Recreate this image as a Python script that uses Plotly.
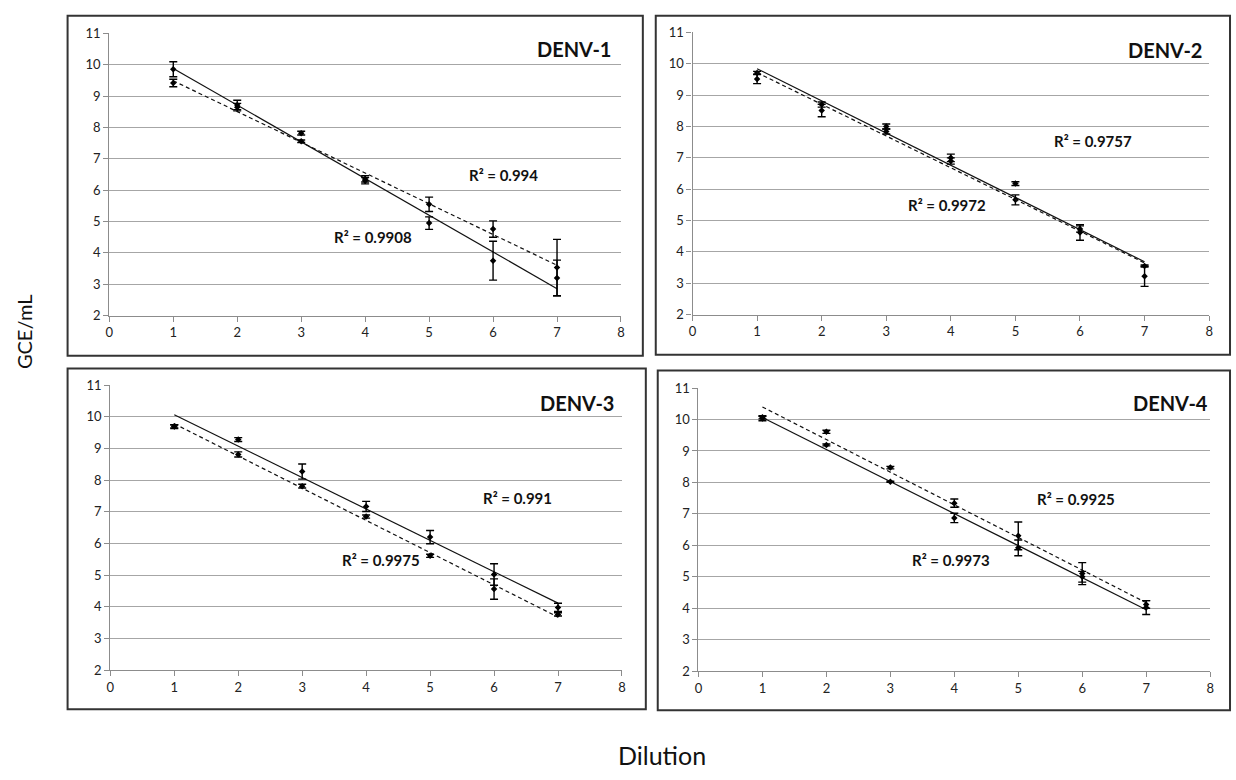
import numpy as np
import plotly.graph_objects as go

# ---------------- data ----------------
dilution = [1, 2, 3, 4, 5, 6, 7]
x_ticks = [0, 1, 2, 3, 4, 5, 6, 7, 8]
y_ticks = [2, 3, 4, 5, 6, 7, 8, 9, 10, 11]

panel_names = ["DENV-1", "DENV-2", "DENV-3", "DENV-4"]

denv1_solid_y = [9.86, 8.72, 7.82, 6.30, 4.95, 3.75, 3.20]
denv1_solid_err = [0.24, 0.15, 0.06, 0.10, 0.20, 0.62, 0.57]
denv1_dash_y = [9.42, 8.65, 7.56, 6.36, 5.55, 4.76, 3.53]
denv1_dash_err = [0.12, 0.12, 0.04, 0.10, 0.23, 0.26, 0.90]

denv2_solid_y = [9.71, 8.70, 8.00, 7.00, 5.66, 4.73, 3.55]
denv2_solid_err = [0.05, 0.08, 0.08, 0.12, 0.16, 0.10, 0.03]
denv2_dash_y = [9.52, 8.51, 7.84, 6.90, 6.18, 4.62, 3.22]
denv2_dash_err = [0.15, 0.20, 0.08, 0.10, 0.06, 0.25, 0.32]

denv3_solid_y = [9.70, 9.28, 8.27, 7.17, 6.20, 5.02, 3.98]
denv3_solid_err = [0.05, 0.06, 0.24, 0.16, 0.21, 0.34, 0.13]
denv3_dash_y = [9.69, 8.81, 7.81, 6.85, 5.61, 4.56, 3.76]
denv3_dash_err = [0.06, 0.08, 0.06, 0.05, 0.05, 0.32, 0.05]

denv4_solid_y = [10.03, 9.19, 8.02, 6.87, 5.92, 5.00, 4.02]
denv4_solid_err = [0.07, 0.03, 0.02, 0.15, 0.25, 0.17, 0.22]
denv4_dash_y = [10.07, 9.61, 8.47, 7.34, 6.30, 5.10, 4.12]
denv4_dash_err = [0.05, 0.05, 0.04, 0.13, 0.44, 0.35, 0.12]

r2_labels = [("R² = 0.994", "R² = 0.9908"),
             ("R² = 0.9757", "R² = 0.9972"),
             ("R² = 0.991", "R² = 0.9975"),
             ("R² = 0.9925", "R² = 0.9973")]

# ---------------- layout helpers ----------------
W, H = 1236, 780
FONT = "Lato"

def px_x(p):
    return p / W

def px_y(p):
    return 1 - p / H

# plot areas in pixels: (left, right, top, bottom)
areas = [(106, 621, 26, 314), (693, 1213, 25, 313),
         (107, 622, 385, 676), (699, 1214, 388, 677)]
# outer boxes
boxes = [(64, 643, 8, 355), (656, 1234, 8, 354),
         (64, 646, 368, 716), (658, 1234, 370, 717)]
# R² label positions (data coords) (upper label, lower label)
r2_pos = [((5.6, 6.5), (3.48, 4.52)),
          ((5.57, 7.53), (3.3, 5.5)),
          ((5.8, 7.45), (3.59, 5.49)),
          ((5.26, 7.48), (3.3, 5.52))]
name_pos = [(0.984, 0.944), (0.99, 0.9375), (0.988, 0.938), (0.999, 0.948)]

series = [
    (denv1_solid_y, denv1_solid_err, denv1_dash_y, denv1_dash_err),
    (denv2_solid_y, denv2_solid_err, denv2_dash_y, denv2_dash_err),
    (denv3_solid_y, denv3_solid_err, denv3_dash_y, denv3_dash_err),
    (denv4_solid_y, denv4_solid_err, denv4_dash_y, denv4_dash_err),
]

fig = go.Figure()
layout = {}
annotations = []
shapes = []

for i in range(4):
    xa = "x" if i == 0 else f"x{i+1}"
    ya = "y" if i == 0 else f"y{i+1}"
    l, r, t, b = areas[i]
    axis_common = dict(showline=True, linecolor="#8c8c8c", linewidth=1.3,
                       ticks="outside", ticklen=5, tickcolor="#8c8c8c",
                       tickfont=dict(family=FONT, size=13, color="#222"),
                       zeroline=False, fixedrange=True)
    layout[("xaxis" if i == 0 else f"xaxis{i+1}")] = dict(
        domain=[px_x(l), px_x(r)], range=[0, 8], tickvals=x_ticks,
        showgrid=False, anchor=ya, **axis_common)
    layout[("yaxis" if i == 0 else f"yaxis{i+1}")] = dict(
        domain=[px_y(b), px_y(t)], range=[2, 11], tickvals=y_ticks,
        showgrid=True, gridcolor="#a6a6a6", gridwidth=1.4,
        anchor=xa, **axis_common)

    sy, se, dy, de = series[i]
    for yv, ev, dash in ((sy, se, "solid"), (dy, de, "4px,3px")):
        # fitted trendline
        k, c = np.polyfit(dilution, yv, 1)
        xs = [dilution[0], dilution[-1]]
        fig.add_trace(go.Scatter(x=xs, y=[k * xs[0] + c, k * xs[1] + c],
                                 mode="lines", xaxis=xa, yaxis=ya,
                                 line=dict(color="#111", width=1.2, dash=dash),
                                 showlegend=False, hoverinfo="skip"))
        fig.add_trace(go.Scatter(x=dilution, y=yv, mode="markers",
                                 xaxis=xa, yaxis=ya,
                                 marker=dict(symbol="diamond", size=5, color="black"),
                                 error_y=dict(type="data", array=ev, color="black",
                                              thickness=1.4, width=4),
                                 showlegend=False))

    # panel name
    nx, ny = name_pos[i]
    annotations.append(dict(text=f"<b>{panel_names[i]}</b>", xref=f"{xa} domain",
                            yref=f"{ya} domain", x=nx, y=ny, xanchor="right",
                            yanchor="middle", showarrow=False,
                            font=dict(family=FONT, size=20, color="#111")))
    for lbl, (ax_, ay_) in zip(r2_labels[i], r2_pos[i]):
        annotations.append(dict(text=f"<b>{lbl}</b>", xref=xa, yref=ya, x=ax_, y=ay_,
                                xanchor="left", yanchor="middle", showarrow=False,
                                font=dict(family=FONT, size=15, color="#111")))
    bl, br, bt, bb = boxes[i]
    shapes.append(dict(type="rect", xref="paper", yref="paper",
                       x0=px_x(bl), x1=px_x(br), y0=px_y(bb), y1=px_y(bt),
                       line=dict(color="#333", width=2)))

annotations.append(dict(text="Dilution", xref="paper", yref="paper",
                        x=px_x(662), y=px_y(763), xanchor="center", yanchor="middle",
                        showarrow=False, font=dict(family=FONT, size=25, color="#111")))
annotations.append(dict(text="GCE/mL", xref="paper", yref="paper",
                        x=px_x(20), y=px_y(330), xanchor="center", yanchor="middle",
                        textangle=-90, showarrow=False,
                        font=dict(family=FONT, size=20, color="#111")))

fig.update_layout(width=W, height=H, margin=dict(l=0, r=0, t=0, b=0),
                  paper_bgcolor="white", plot_bgcolor="white",
                  annotations=annotations, shapes=shapes, **layout)

fig.write_html("out.html", config={"displayModeBar": False})

# remove the default page margin so the figure sits at the window origin
with open("out.html", encoding="utf-8") as f:
    html = f.read()
html = html.replace("<head>", "<head><style>html,body{margin:0;padding:0;}</style>", 1)
with open("out.html", "w", encoding="utf-8") as f:
    f.write(html)
